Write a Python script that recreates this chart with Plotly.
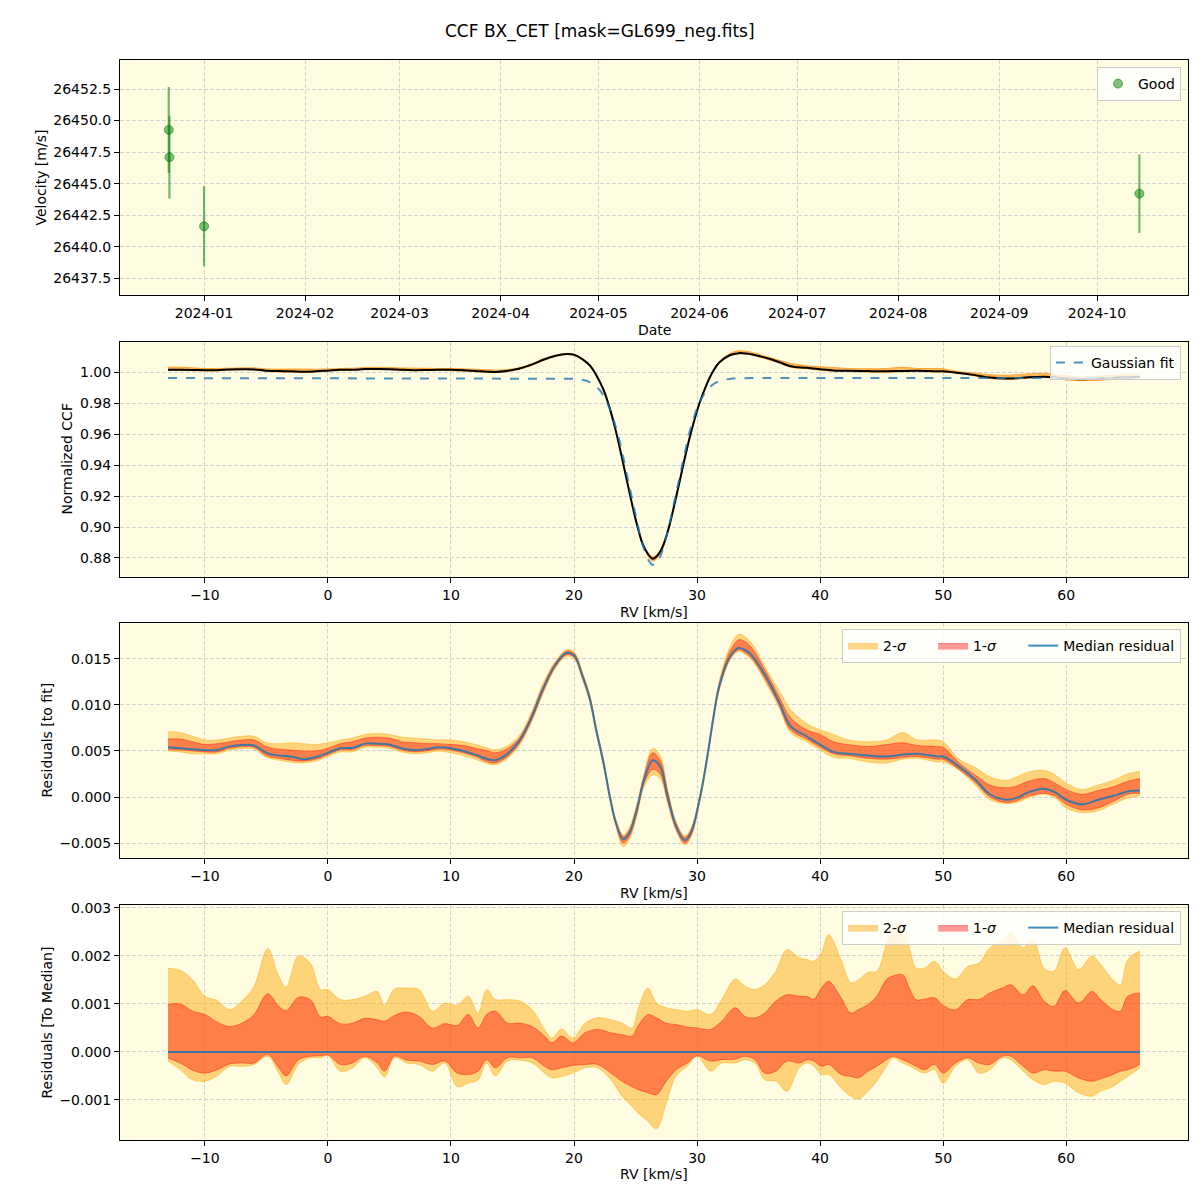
import numpy as np
import plotly.graph_objects as go

# ---------------- Panel 1: RV time series ----------------
obs_dates = ["2023-12-21 04:00", "2023-12-21 09:00", "2024-01-01 00:00", "2024-10-14 00:00"]
obs_rv = [26449.26, 26447.10, 26441.63, 26444.21]
obs_err = [3.40, 3.27, 3.17, 3.11]

# ---------------- Panel 2: Gaussian fit parameters ----------------
gauss_baseline = 0.9962
gauss_depth = 0.1207
gauss_center = 26.45
gauss_sigma = 1.86

# ---------------- Panel 3: residuals to fit (units of 1e-3) ----------------
rv3 = [-13, -12, -11, -10, -9, -8, -7, -6, -5, -4,
       -3, -2, -1, 0, 1, 2, 3, 4, 5, 6,
       7, 8, 9, 10, 11, 12, 13, 13.6, 14.5, 15.5,
       16.5, 17.5, 18.5, 19.4, 20, 20.7, 21.3, 21.8, 22.4, 22.9,
       23.4, 24, 24.5, 25.1, 25.7, 26.4, 27, 27.6, 28.3, 29,
       29.5, 30.2, 30.8, 31.3, 31.8, 32.7, 33.4, 34, 34.5, 35.8,
       36.7, 37.6, 38.9, 40, 41.1, 42.3, 43.9, 45.4, 46.7, 47.9,
       49.5, 50, 51.3, 52.6, 53.8, 55.1, 56, 56.9, 58.2, 59.1,
       60, 61.3, 62.6, 63.8, 65, 66]
med3 = [5.4, 5.3, 5.2, 5.1, 5.1, 5.5, 5.65, 5.6, 4.8, 4.5,
        4.4, 4.1, 4.35, 4.8, 5.3, 5.35, 5.8, 5.8, 5.7, 5.3,
        5.1, 5.2, 5.4, 5.3, 5.0, 4.6, 4.1, 4.0, 4.6, 6.0,
        8.5, 11.8, 14.4, 15.65, 15.4, 13.1, 10.6, 7.3, 3.7, 0.1,
        -2.8, -4.6, -3.9, -1.4, 1.9, 4.0, 3.3, 0.1, -3.2, -4.7,
        -3.9, -0.3, 4.1, 8.4, 12.0, 15.3, 16.2, 15.9, 15.3, 12.6,
        10.2, 7.7, 6.6, 5.7, 4.9, 4.7, 4.5, 4.4, 4.6, 4.7,
        4.4, 4.4, 3.3, 1.9, 0.3, -0.3, -0.1, 0.5, 0.9, 0.5,
        -0.3, -0.8, -0.3, 0.1, 0.6, 0.7]
up1_3 = [6.3, 6.3, 6.0, 5.7, 5.8, 6.0, 6.2, 6.2, 5.5, 5.2,
         5.1, 5.0, 5.0, 5.3, 5.8, 6.0, 6.4, 6.5, 6.4, 6.0,
         5.9, 5.8, 5.8, 5.7, 5.6, 5.3, 5.0, 4.8, 5.2, 6.3,
         8.8, 12.1, 14.6, 15.85, 15.6, 13.3, 10.8, 7.5, 3.9, 0.3,
         -2.6, -4.3, -3.6, -1.1, 2.3, 4.8, 4.0, 0.6, -2.9, -4.4,
         -3.6, -0.1, 4.3, 8.6, 12.3, 15.9, 17.1, 16.8, 16.1, 13.1,
         10.8, 8.6, 7.3, 6.8, 6.0, 5.7, 5.5, 5.7, 5.9, 5.6,
         5.5, 5.4, 3.7, 2.4, 1.3, 1.0, 1.2, 1.7, 2.0, 1.5,
         0.8, 0.3, 0.7, 1.1, 1.7, 2.0]
lo1_3 = [5.2, 5.1, 5.0, 4.9, 4.9, 5.3, 5.45, 5.4, 4.5, 4.2,
         4.0, 3.9, 4.1, 4.6, 5.1, 5.15, 5.6, 5.6, 5.5, 5.1,
         4.9, 5.0, 5.2, 5.1, 4.8, 4.4, 3.8, 3.7, 4.3, 5.7,
         8.2, 11.5, 14.2, 15.45, 15.2, 12.9, 10.4, 7.1, 3.5, -0.1,
         -3.0, -5.0, -4.3, -1.8, 1.5, 3.0, 2.5, -0.4, -3.5, -5.0,
         -4.2, -0.5, 3.9, 8.2, 11.8, 15.1, 16.0, 15.6, 15.0, 12.2,
         9.9, 7.3, 6.3, 5.4, 4.7, 4.5, 4.2, 4.1, 4.3, 4.4,
         4.1, 4.1, 3.0, 1.6, 0.0, -0.6, -0.4, 0.1, 0.4, 0.1,
         -0.8, -1.4, -1.2, -0.5, 0.3, 0.4]
up2_3 = [7.1, 7.0, 6.6, 6.2, 6.2, 6.4, 6.6, 6.6, 5.9, 5.8,
         5.9, 5.8, 5.7, 5.9, 6.2, 6.4, 6.8, 6.9, 6.8, 6.5,
         6.4, 6.3, 6.2, 6.2, 6.0, 5.7, 5.3, 5.1, 5.5, 6.6,
         9.1, 12.4, 14.8, 16.0, 15.8, 13.5, 11.0, 7.7, 4.1, 0.5,
         -2.4, -4.1, -3.3, -0.8, 2.6, 5.3, 4.5, 0.9, -2.7, -4.2,
         -3.4, 0.1, 4.5, 8.8, 12.6, 16.4, 17.7, 17.3, 16.6, 13.5,
         11.5, 9.5, 8.0, 7.3, 6.8, 6.2, 6.0, 6.2, 7.0, 6.2,
         6.2, 6.0, 4.1, 3.2, 2.2, 1.8, 2.2, 2.7, 2.9, 2.4,
         1.5, 0.8, 1.3, 1.8, 2.5, 2.8]
lo2_3 = [5.0, 4.9, 4.7, 4.7, 4.7, 5.1, 5.25, 5.2, 4.3, 4.0,
         3.8, 3.7, 3.9, 4.4, 4.9, 4.9, 5.4, 5.4, 5.3, 4.9,
         4.7, 4.8, 5.0, 4.8, 4.5, 4.1, 3.6, 3.5, 4.1, 5.5,
         8.0, 11.3, 14.0, 15.3, 15.0, 12.7, 10.2, 6.9, 3.3, -0.3,
         -3.2, -5.4, -4.6, -2.1, 1.1, 2.4, 2.0, -0.7, -3.7, -5.2,
         -4.4, -0.7, 3.7, 8.0, 11.6, 14.9, 15.8, 15.4, 14.8, 11.9,
         9.6, 7.0, 6.0, 5.1, 4.3, 4.2, 3.8, 3.7, 4.1, 4.2,
         3.8, 3.8, 2.9, 1.3, -0.3, -0.7, -0.6, -0.1, 0.3, -0.1,
         -1.2, -1.7, -1.5, -0.8, -0.1, 0.1]

# ---------------- Panel 4: residuals to median (units of 1e-3) ----------------
rv4 = [-13, -12, -11, -10, -9, -8, -7, -6, -4.9, -4,
       -3.4, -2.4, -1.45, -0.6, 0, 1, 2, 3, 4, 4.6,
       5.4, 6.4, 7.4, 8.5, 9.5, 10.5, 11.4, 12.2, 12.9, 13.6,
       14.6, 15.6, 16.6, 17.6, 18.2, 19, 19.9, 20.9, 21.9, 23,
       23.9, 24.7, 25.2, 26, 26.7, 27.5, 28.3, 29.2, 30, 31.1,
       32, 33.1, 33.9, 34.7, 35.5, 36.4, 37.3, 38.3, 39, 39.5,
       40.1, 40.7, 41.7, 42.5, 43.1, 43.9, 44.6, 45.4, 45.9, 46.7,
       47.3, 47.8, 48.5, 49.3, 50, 51, 52, 52.9, 53.8, 54.8,
       55.5, 56.5, 57.3, 58.2, 59, 59.9, 61, 62.1, 62.8, 63.8,
       64.4, 65, 66]
up2_4 = [1.74, 1.70, 1.50, 1.16, 1.07, 0.88, 1.06, 1.37, 2.15, 1.58,
         1.35, 2.00, 1.85, 1.30, 1.30, 1.09, 1.09, 1.16, 1.26, 0.97,
         1.31, 1.33, 1.30, 0.85, 1.02, 0.97, 1.16, 0.81, 1.30, 1.09,
         1.09, 1.06, 0.88, 0.47, 0.29, 0.48, 0.29, 0.60, 0.71, 0.67,
         0.60, 0.50, 0.88, 1.33, 1.02, 0.92, 0.88, 0.85, 0.88, 0.78,
         1.09, 1.52, 1.37, 1.30, 1.40, 1.68, 2.13, 1.96, 1.92, 1.89,
         2.06, 2.44, 1.92, 1.44, 1.50, 1.66, 1.68, 2.27, 2.65, 2.65,
         2.13, 1.75, 1.75, 1.89, 1.68, 1.52, 1.78, 1.85, 2.17, 2.31,
         2.48, 2.17, 2.34, 1.75, 1.68, 2.17, 1.72, 2.00, 1.82, 1.50,
         1.40, 1.92, 2.10]
up1_4 = [0.99, 1.00, 0.85, 0.78, 0.62, 0.53, 0.60, 0.78, 1.21, 0.95,
         0.86, 1.14, 1.09, 0.73, 0.74, 0.59, 0.60, 0.70, 0.67, 0.64,
         0.76, 0.83, 0.74, 0.50, 0.59, 0.55, 0.78, 0.50, 0.78, 0.85,
         0.60, 0.60, 0.53, 0.33, 0.19, 0.33, 0.19, 0.40, 0.47, 0.40,
         0.36, 0.33, 0.54, 0.78, 0.71, 0.60, 0.57, 0.52, 0.50, 0.47,
         0.64, 0.92, 0.74, 0.71, 0.81, 1.06, 1.19, 1.16, 1.15, 1.10,
         1.33, 1.47, 1.13, 0.81, 0.88, 0.99, 1.16, 1.51, 1.58, 1.61,
         1.30, 1.09, 1.10, 1.13, 0.97, 0.88, 1.09, 1.09, 1.23, 1.33,
         1.40, 1.19, 1.38, 1.06, 0.95, 1.28, 1.02, 1.26, 1.09, 0.88,
         0.85, 1.16, 1.23]
lo1_4 = [-0.13, -0.23, -0.38, -0.44, -0.37, -0.25, -0.23, -0.23, -0.05, -0.33,
         -0.50, -0.16, -0.09, -0.08, -0.06, -0.26, -0.23, -0.09, -0.23, -0.40,
         -0.09, -0.17, -0.19, -0.26, -0.19, -0.44, -0.47, -0.40, -0.16, -0.33,
         -0.12, -0.12, -0.12, -0.30, -0.37, -0.33, -0.28, -0.26, -0.26, -0.44,
         -0.61, -0.72, -0.78, -0.85, -0.89, -0.61, -0.37, -0.23, -0.08, -0.19,
         -0.16, -0.15, -0.09, -0.16, -0.44, -0.40, -0.19, -0.23, -0.16, -0.19,
         -0.30, -0.26, -0.47, -0.51, -0.54, -0.40, -0.30, -0.16, -0.09, -0.16,
         -0.23, -0.30, -0.37, -0.26, -0.44, -0.23, -0.12, -0.23, -0.26, -0.09,
         -0.09, -0.30, -0.44, -0.37, -0.40, -0.40, -0.54, -0.61, -0.56, -0.47,
         -0.40, -0.37, -0.26]
lo2_4 = [-0.19, -0.37, -0.58, -0.61, -0.50, -0.30, -0.30, -0.26, -0.09, -0.44,
         -0.68, -0.26, -0.12, -0.12, -0.08, -0.40, -0.33, -0.12, -0.33, -0.52,
         -0.12, -0.23, -0.26, -0.40, -0.23, -0.72, -0.65, -0.58, -0.23, -0.50,
         -0.19, -0.17, -0.23, -0.44, -0.54, -0.51, -0.44, -0.33, -0.33, -0.58,
         -0.92, -1.13, -1.27, -1.44, -1.60, -1.06, -0.50, -0.30, -0.09, -0.40,
         -0.23, -0.23, -0.16, -0.23, -0.58, -0.61, -0.82, -0.33, -0.23, -0.30,
         -0.47, -0.47, -0.75, -0.92, -0.98, -0.82, -0.61, -0.30, -0.12, -0.23,
         -0.30, -0.37, -0.44, -0.37, -0.65, -0.30, -0.16, -0.44, -0.37, -0.12,
         -0.16, -0.40, -0.58, -0.68, -0.61, -0.65, -0.85, -0.92, -0.82, -0.72,
         -0.61, -0.51, -0.33]
med4 = [0.0] * len(rv4)

# ---------------- derived quantities ----------------
S = 1e-3
rv3a = np.array(rv3, float)


def gauss(x):
    return gauss_baseline - gauss_depth * np.exp(-0.5 * ((x - gauss_center) / gauss_sigma) ** 2)


g3 = gauss(rv3a)
ccf = g3 + np.array(med3) * S
ccf_lo = g3 + np.array(lo2_3) * S
ccf_hi = g3 + np.array(up2_3) * S
rv_fit = np.linspace(rv3[0], rv3[-1], 800)
fit_curve = gauss(rv_fit)

C2 = "rgba(255,165,0,0.45)"
C1 = "rgba(255,0,0,0.40)"
CMED = "rgba(31,119,180,0.85)"
FONT = "DejaVu Sans"
PAD = "\u00a0" * 5

fig = go.Figure()

# Panel 1
fig.add_trace(go.Scatter(
    x=obs_dates, y=obs_rv, mode="markers", name="Good",
    marker=dict(color="rgba(0,128,0,0.5)", size=9, line=dict(color="rgba(0,110,0,0.5)", width=1)),
    error_y=dict(type="data", array=obs_err, color="rgba(0,128,0,0.55)", thickness=2.2, width=0),
    xaxis="x", yaxis="y", legend="legend"))

# Panel 2
fig.add_trace(go.Scatter(x=rv3, y=ccf_lo, mode="lines", line=dict(color="rgba(255,140,0,0.7)", width=1, shape="spline"),
                         showlegend=False, hoverinfo="skip", xaxis="x2", yaxis="y2"))
fig.add_trace(go.Scatter(x=rv3, y=ccf_hi, mode="lines", line=dict(color="rgba(255,140,0,0.7)", width=1, shape="spline"),
                         fill="tonexty", fillcolor="rgba(255,140,0,0.6)",
                         showlegend=False, hoverinfo="skip", xaxis="x2", yaxis="y2"))
fig.add_trace(go.Scatter(x=rv3, y=ccf, mode="lines", line=dict(color="black", width=2, shape="spline"),
                         showlegend=False, xaxis="x2", yaxis="y2"))
fig.add_trace(go.Scatter(x=rv_fit, y=fit_curve, mode="lines", name="Gaussian fit",
                         line=dict(color="rgba(31,119,180,0.8)", width=2, dash="dash"),
                         xaxis="x2", yaxis="y2", legend="legend2"))


def bands(rv, lo2, up2, lo1, up1, med, xa, ya, leg):
    s = lambda a: np.array(a, float) * S
    fig.add_trace(go.Scatter(x=rv, y=s(lo2), mode="lines", line=dict(color=C2, width=1, shape="spline"),
                             showlegend=False, hoverinfo="skip", xaxis=xa, yaxis=ya, legend=leg))
    fig.add_trace(go.Scatter(x=rv, y=s(up2), mode="lines", line=dict(color=C2, width=1, shape="spline"),
                             fill="tonexty", fillcolor=C2, name="2-<i>σ</i>" + PAD,
                             xaxis=xa, yaxis=ya, legend=leg))
    fig.add_trace(go.Scatter(x=rv, y=s(lo1), mode="lines", line=dict(color=C1, width=1, shape="spline"),
                             showlegend=False, hoverinfo="skip", xaxis=xa, yaxis=ya, legend=leg))
    fig.add_trace(go.Scatter(x=rv, y=s(up1), mode="lines", line=dict(color=C1, width=1, shape="spline"),
                             fill="tonexty", fillcolor=C1, name="1-<i>σ</i>" + PAD,
                             xaxis=xa, yaxis=ya, legend=leg))
    fig.add_trace(go.Scatter(x=rv, y=s(med), mode="lines", line=dict(color=CMED, width=2, shape="spline"),
                             name="Median residual", xaxis=xa, yaxis=ya, legend=leg))


bands(rv3, lo2_3, up2_3, lo1_3, up1_3, med3, "x3", "y3", "legend3")
bands(rv4, lo2_4, up2_4, lo1_4, up1_4, med4, "x4", "y4", "legend4")

H = 1200.0
common = dict(showline=True, mirror=True, linecolor="black", linewidth=1,
              ticks="outside", ticklen=5, tickcolor="black", tickwidth=1,
              showgrid=True, gridcolor="#d3d3d3", griddash="4px,2px", gridwidth=1,
              zeroline=False, tickfont=dict(family=FONT, size=14, color="black"),
              automargin=False)
xdom = [120 / H, 1188 / H]


def ydom(top, bot):
    return [1 - bot / H, 1 - top / H]


layout = dict(
    width=1200, height=1200,
    margin=dict(l=0, r=0, t=0, b=0),
    paper_bgcolor="white", plot_bgcolor="#FEFCE1",
    font=dict(family=FONT, size=14, color="black"),
    xaxis=dict(domain=xdom, anchor="y", type="date",
               range=["2023-12-06 05:00", "2024-10-28 22:00"],
               tickformat="%Y-%m", dtick="M1", tick0="2024-01-01", **common),
    yaxis=dict(domain=ydom(60, 295), anchor="x", range=[26436.18, 26454.8],
               tick0=26437.5, dtick=2.5, tickformat=".1f", **common),
    xaxis2=dict(domain=xdom, anchor="y2", range=[-16.9, 69.9], dtick=10, tick0=0, **common),
    yaxis2=dict(domain=ydom(342, 577), anchor="x2", range=[0.8677, 1.0195],
                dtick=0.02, tick0=0.88, tickformat=".2f", **common),
    xaxis3=dict(domain=xdom, anchor="y3", range=[-16.9, 69.9], dtick=10, tick0=0, **common),
    yaxis3=dict(domain=ydom(623, 858), anchor="x3", range=[-0.00663, 0.01891],
                dtick=0.005, tick0=0, tickformat=".3f", **common),
    xaxis4=dict(domain=xdom, anchor="y4", range=[-16.9, 69.9], dtick=10, tick0=0, **common),
    yaxis4=dict(domain=ydom(905, 1140), anchor="x4", range=[-0.001833, 0.00306],
                dtick=0.001, tick0=0, tickformat=".3f", **common),
)

leg_common = dict(xanchor="right", yanchor="top", bgcolor="rgba(255,255,255,0.8)",
                  bordercolor="#cccccc", borderwidth=1, font=dict(family=FONT, size=14, color="black"))
layout["legend"] = dict(x=1181 / H, y=1 - 67 / H, **leg_common)
layout["legend2"] = dict(x=1181 / H, y=1 - 346 / H, **leg_common)
layout["legend3"] = dict(x=1181 / H, y=1 - 629 / H, orientation="h", traceorder="normal", **leg_common)
layout["legend4"] = dict(x=1181 / H, y=1 - 911 / H, orientation="h", traceorder="normal", **leg_common)

ann = []
ann.append(dict(text="CCF BX_CET [mask=GL699_neg.fits]", x=0.5, y=1 - 32 / H, xref="paper", yref="paper",
                showarrow=False, xanchor="center", yanchor="middle", font=dict(family=FONT, size=17, color="black")))
for txt, ypx in [("Date", 330), ("RV [km/s]", 612), ("RV [km/s]", 893), ("RV [km/s]", 1174)]:
    ann.append(dict(text=txt, x=654 / H, y=1 - ypx / H, xref="paper", yref="paper", showarrow=False,
                    xanchor="center", yanchor="middle", font=dict(family=FONT, size=14, color="black")))
for txt, xpx, ypx in [("Velocity [m/s]", 40, 177.5), ("Normalized CCF", 66, 459.5),
                      ("Residuals [to fit]", 46, 740.5), ("Residuals [To Median]", 46, 1022.5)]:
    ann.append(dict(text=txt, x=xpx / H, y=1 - ypx / H, xref="paper", yref="paper", showarrow=False,
                    textangle=-90, xanchor="center", yanchor="middle",
                    font=dict(family=FONT, size=14, color="black")))
layout["annotations"] = ann

fig.update_layout(**layout)
fig.write_html("out.html")
